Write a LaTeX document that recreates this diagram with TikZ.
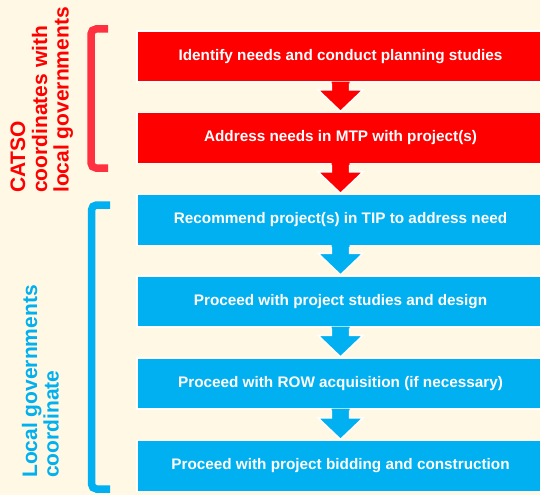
\documentclass[tikz,border=0pt]{standalone}
\usepackage{fontspec}
\setmainfont{Liberation Sans}
\usetikzlibrary{calc}
\definecolor{bg}{HTML}{FEF8E4}
\definecolor{boxred}{HTML}{FF0000}
\definecolor{boxblue}{HTML}{00B0F0}
\definecolor{brred}{HTML}{FF3040}
\newcommand\mkarrow[3]{%
  \fill[#1] let \p1=(#2.south), \p2=(#3.north) in
    (\x1-9pt,\y1+1pt) -- (\x1-9pt,\y2+22pt) -- (\x1-22.5pt,\y2+22pt) -- (\x1,\y2+0.5pt)
    -- (\x1+22.5pt,\y2+22pt) -- (\x1+9pt,\y2+22pt) -- (\x1+9pt,\y1+1pt) -- cycle;
  \draw[white,line width=1.4pt,line join=miter] let \p1=(#2.south), \p2=(#3.north) in
    (\x1-9pt,\y1-0.7pt) -- (\x1-9pt,\y2+22pt) -- (\x1-22.5pt,\y2+22pt) -- (\x1,\y2+0.5pt)
    -- (\x1+22.5pt,\y2+22pt) -- (\x1+9pt,\y2+22pt) -- (\x1+9pt,\y1-0.7pt);
}
\begin{document}
\begin{tikzpicture}[x=1pt,y=-1pt,
  stepbox/.style={draw=white, line width=1.4pt, minimum width=407pt, minimum height=51pt,
    inner sep=0pt, text=white, font=\fontsize{15.3}{18}\selectfont\bfseries},
  redbox/.style={stepbox, fill=boxred},
  bluebox/.style={stepbox, fill=boxblue},
  lbl/.style={rotate=90, anchor=base west, inner sep=0pt, font=\fontsize{21}{22}\selectfont\bfseries},
  bracket/.style={line width=7.5pt, rounded corners=5pt}]
\fill[bg] (0,0) rectangle (540,495);
\useasboundingbox (0,0) rectangle (540,495);

\node[redbox] (r1) at (340.5,56.5) {Identify needs and conduct planning studies};
\node[redbox] (r2) at (340.5,138) {Address needs in MTP with project(s)};
\node[bluebox] (b1) at (340.5,220) {Recommend project(s) in TIP to address need};
\node[bluebox] (b2) at (340.5,301.5) {Proceed with project studies and design};
\node[bluebox] (b3) at (340.5,383.5) {Proceed with ROW acquisition (if necessary)};
\node[bluebox] (b4) at (340.5,466) {Proceed with project bidding and construction};

\mkarrow{boxred}{r1}{r2}
\mkarrow{boxred}{r2}{b1}
\mkarrow{boxblue}{b1}{b2}
\mkarrow{boxblue}{b2}{b3}
\mkarrow{boxblue}{b3}{b4}

\coordinate (rt) at (108,29);
\coordinate (rb) at (108,168);
\draw[bracket, brred] (rt) -- (91,29) -- (91,168) -- (rb);
\coordinate (bt) at (110,205);
\coordinate (bb) at (110,489);
\draw[bracket, boxblue] (bt) -- (91.5,205) -- (91.5,489) -- (bb);

\node[lbl, text=boxred] (la) at (25,193) {CATSO};
\node[lbl, text=boxred] (lb) at (47,193) {coordinates with};
\node[lbl, text=boxred] (lc) at (68.5,193) {local governments};
\node[lbl, text=boxblue] (ld) at (37,478) {Local governments};
\node[lbl, text=boxblue] (le) at (58.5,478) {coordinate};
\end{tikzpicture}
\end{document}
